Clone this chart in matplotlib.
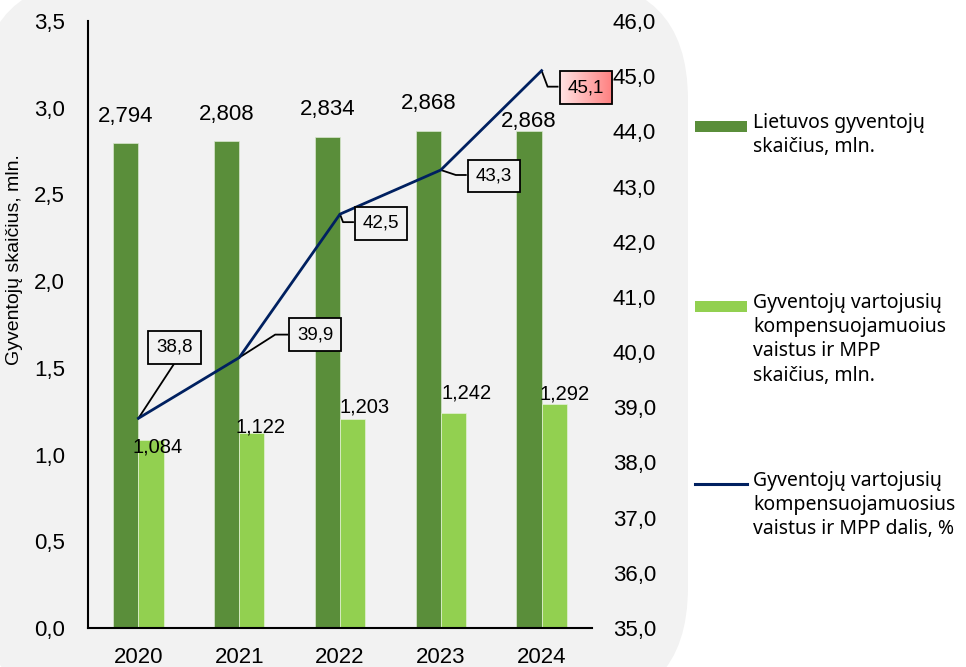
import matplotlib
matplotlib.use("Agg")
import matplotlib.pyplot as plt
from matplotlib.patches import FancyBboxPatch, Rectangle
from matplotlib.transforms import IdentityTransform
from matplotlib.lines import Line2D
from matplotlib.colors import LinearSegmentedColormap
import numpy as np

# ---- data ----
years = ["2020", "2021", "2022", "2023", "2024"]
population = [2.794, 2.808, 2.834, 2.868, 2.868]
users = [1.084, 1.122, 1.203, 1.242, 1.292]
share = [38.8, 39.9, 42.5, 43.3, 45.1]
left_ticks = [0.0, 0.5, 1.0, 1.5, 2.0, 2.5, 3.0, 3.5]
right_ticks = [35.0, 36.0, 37.0, 38.0, 39.0, 40.0, 41.0, 42.0, 43.0, 44.0, 45.0, 46.0]
leg_labels = ["Lietuvos gyventojų\nskaičius, mln.",
              "Gyventojų vartojusių\nkompensuojamuoius\nvaistus ir MPP\nskaičius, mln.",
              "Gyventojų vartojusių\nkompensuojamuosius\nvaistus ir MPP dalis, %"]
ylabel = "Gyventojų skaičius, mln."

def fmt(v, d):
    return f"{v:.{d}f}".replace(".", ",")

DARK = "#5a8e3a"
LIGHT = "#92d050"
NAVY = "#002060"
BG = "#f2f2f2"

plt.rcParams['font.family'] = ['Liberation Sans', 'DejaVu Sans']

W, H = 966, 667
fig = plt.figure(figsize=(W / 100, H / 100), dpi=100)
fig.patch.set_facecolor("white")

# rounded grey background (pixel coords, y from bottom)
bg = FancyBboxPatch((-20 + 120, -40 + 120), 688 + 20 - 240, 667 + 20 + 40 - 240,
                    boxstyle="round,pad=120", transform=IdentityTransform(),
                    facecolor=BG, edgecolor="none", zorder=-5)
fig.patches.append(bg)

ax = fig.add_axes([88 / W, (667 - 628) / H, (592 - 88) / W, (628 - 21) / H])
ax.set_facecolor("none")
x = np.arange(len(years))
bw = 0.25
ax.bar(x - bw / 2, population, bw, color=DARK, edgecolor="#d9e8cf", linewidth=0.5, zorder=2)
ax.bar(x + bw / 2, users, bw, color=LIGHT, edgecolor="#e4f2d6", linewidth=0.5, zorder=2)
ax.set_xlim(-0.5, len(years) - 0.5)
ax.set_ylim(0, 3.5)
ax.set_yticks(left_ticks)
ax.set_yticklabels([fmt(t, 1) for t in left_ticks], fontsize=16)
ax.set_xticks(x)
ax.set_xticklabels(years, fontsize=16)
ax.tick_params(axis="y", length=0, pad=16.5)
ax.tick_params(axis="x", length=0, pad=14)
for s in ["top", "right"]:
    ax.spines[s].set_visible(False)
for s in ["left", "bottom"]:
    ax.spines[s].set_linewidth(1.5)
    ax.spines[s].set_color("black")
ax.set_ylabel(ylabel, fontsize=14)
ax.yaxis.set_label_coords((23 - 88) / (592 - 88), (628 - 260) / (628 - 21))

# dark bar labels (offset in pixels)
pop_off = [(0, 27), (0, 27), (0, 27), (0, 27), (0, 9)]
for i, v in enumerate(population):
    ax.annotate(fmt(v, 3), (x[i] - bw / 2, v), xytext=pop_off[i], textcoords="offset pixels",
                ha="center", va="center", fontsize=16, zorder=5)
usr_off = [(7, -7), (9, 6), (12, 12), (13, 20), (10, 10)]
for i, v in enumerate(users):
    ax.annotate(fmt(v, 3), (x[i] + bw / 2, v), xytext=usr_off[i], textcoords="offset pixels",
                ha="center", va="center", fontsize=14.5, zorder=5)

ax2 = ax.twinx()
ax2.set_ylim(35, 46)
ax2.set_yticks(right_ticks)
ax2.set_yticklabels([fmt(t, 1) for t in right_ticks], fontsize=16)
ax2.tick_params(axis="y", length=0, pad=15)
for s in ax2.spines.values():
    s.set_visible(False)
ax2.plot(x, share, color=NAVY, linewidth=2, zorder=4)

# line labels: box centre offsets (pixels) and leader elbow offsets
box_off = [(36, 71), (76, 23), (41, -9), (53, -6), (44, -17)]
elbow = [None, (36, 23), (3, -8), (15, -5), (6, -16)]
bbox_nodes = []
fig.canvas.draw()
for i, v in enumerate(share):
    px, py = ax2.transData.transform((x[i], v))
    bx, by = px + box_off[i][0], py + box_off[i][1]
    t = ax2.text(bx, by, fmt(v, 1), transform=IdentityTransform(), ha="center", va="center",
                 fontsize=13.5, zorder=7, clip_on=False,
                 bbox=dict(boxstyle="square,pad=0.42", facecolor="#f2f2f2",
                           edgecolor="black", linewidth=1.3))
    halfw = 28
    if elbow[i] is None:
        pts = [(px, py), (bx, by - 16)]
    else:
        ex, ey = px + elbow[i][0], py + elbow[i][1]
        pts = [(px, py), (ex, ey), (bx - halfw, ey)]
    ln = Line2D([p[0] for p in pts], [p[1] for p in pts], transform=IdentityTransform(),
                color="black", linewidth=1.3, zorder=3, clip_on=False)
    ax2.add_line(ln)
    bbox_nodes.append(t)

# pink gradient on last box
fig.canvas.draw()
lt = bbox_nodes[-1]
bb = lt.get_bbox_patch().get_window_extent()
lt.remove()
gax = fig.add_axes([bb.x0 / W, bb.y0 / H, bb.width / W, bb.height / H], zorder=6)
grad = np.linspace(0, 1, 100).reshape(1, -1)
cm = LinearSegmentedColormap.from_list("pk", ["#ffe3e3", "#ff7f7f"])
gax.imshow(grad, aspect="auto", cmap=cm, extent=[0, 1, 0, 1])
gax.set_axis_off()
gax.text(0.5, 0.5, fmt(share[-1], 1), transform=gax.transAxes, ha="center", va="center",
         fontsize=13.5, zorder=10)
gax.add_patch(Rectangle((0, 0), 1, 1, transform=gax.transAxes, fill=False, edgecolor="black",
                        linewidth=1.3, clip_on=False))

# legend (manual, pixel coords measured from top)
leg_font = ['Noto Sans', 'DejaVu Sans']
items = [(DARK, "patch", 126), (LIGHT, "patch", 306), (NAVY, "line", 484)]
for (col, kind, yc), lab in zip(items, leg_labels):
    yb = H - yc
    if kind == "patch":
        fig.patches.append(Rectangle((695, yb - 5.5), 52, 11, transform=IdentityTransform(),
                                     facecolor=col, edgecolor="none"))
    else:
        fig.lines.append(Line2D([695, 747], [yb, yb], transform=IdentityTransform(),
                                color=col, linewidth=2.2))
    fig.text(753 / W, (yb + 13) / H, lab, ha="left", va="top", fontsize=14,
             family=leg_font, fontweight=500, linespacing=1.28)

fig.savefig("out.png", dpi=100, facecolor="white")
